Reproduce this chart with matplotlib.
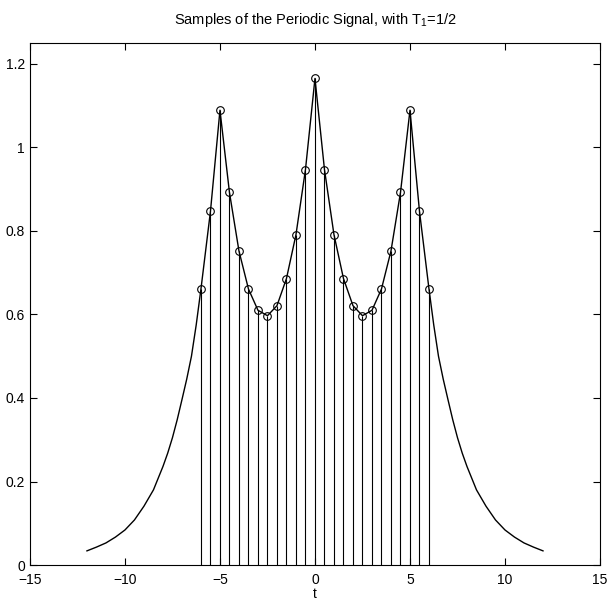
import matplotlib
matplotlib.use("Agg")
import matplotlib.pyplot as plt
import numpy as np

matplotlib.rcParams.update({
    'font.family': ['Liberation Sans', 'DejaVu Sans'],
    'mathtext.fontset': 'custom',
    'mathtext.rm': 'Liberation Sans',
    'mathtext.it': 'Liberation Sans',
})

# samples taken every T1 = 1/2
t_samp = [-6.0, -5.5, -5.0, -4.5, -4.0, -3.5, -3.0, -2.5, -2.0, -1.5, -1.0, -0.5, 0.0,
          0.5, 1.0, 1.5, 2.0, 2.5, 3.0, 3.5, 4.0, 4.5, 5.0, 5.5, 6.0]
x_samp = [0.661, 0.847, 1.089, 0.892, 0.752, 0.661, 0.610, 0.597, 0.621, 0.686, 0.791, 0.947, 1.165,
          0.947, 0.791, 0.686, 0.621, 0.597, 0.610, 0.661, 0.752, 0.892, 1.089, 0.847, 0.661]

t_left = [-12.0, -11.5, -11.0, -10.5, -10.0, -9.5, -9.0, -8.5, -8.0, -7.75, -7.5, -7.25,
          -7.0, -6.75, -6.5, -6.25]
x_left = [0.034, 0.043, 0.053, 0.067, 0.084, 0.108, 0.141, 0.180, 0.236, 0.268, 0.305, 0.348,
          0.396, 0.445, 0.500, 0.575]
t_right = [6.25, 6.5, 6.75, 7.0, 7.25, 7.5, 7.75, 8.0, 8.5, 9.0, 9.5, 10.0, 10.5, 11.0,
           11.5, 12.0]
x_right = [0.575, 0.500, 0.445, 0.396, 0.348, 0.305, 0.268, 0.236, 0.180, 0.141, 0.108, 0.084,
           0.067, 0.053, 0.043, 0.034]

t_curve = t_left + t_samp + t_right
x_curve = x_left + x_samp + x_right

fig = plt.figure(figsize=(6.11, 6.05), dpi=100)
ax = fig.add_axes([0.049, 0.066, 0.933, 0.863])

ax.plot(t_curve, x_curve, color='black', linewidth=1.0)
ax.vlines(t_samp, 0, x_samp, color='black', linewidth=0.8)
ax.plot(t_samp, x_samp, 'o', markersize=5.5, markerfacecolor='none',
        markeredgecolor='black', markeredgewidth=0.8)

ax.set_xlim(-15, 15)
ax.set_ylim(0, 1.25)
ax.set_xticks([-15, -10, -5, 0, 5, 10, 15])
ax.set_yticks([0, 0.2, 0.4, 0.6, 0.8, 1.0, 1.2])
ax.yaxis.set_major_formatter(matplotlib.ticker.FuncFormatter(lambda v, p: '%g' % v))
ax.tick_params(direction='in', top=True, right=True, length=5, labelsize=10)
ax.tick_params(axis='x', pad=6)

ax.set_xlabel('t', fontsize=10, labelpad=0)
ax.set_title(r'Samples of the Periodic Signal, with T$_1$=1/2', fontsize=10.5, pad=14)

plt.savefig("out.png", dpi=100)
